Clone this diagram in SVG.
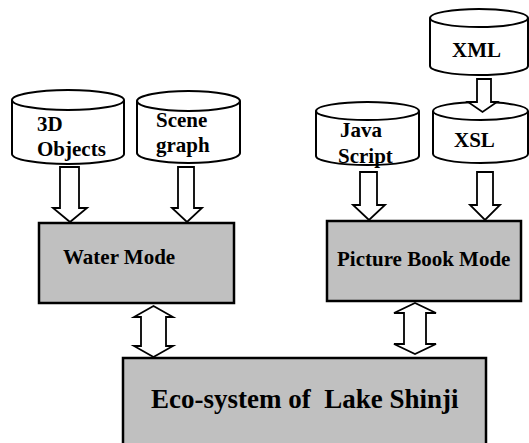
<svg xmlns="http://www.w3.org/2000/svg" width="529" height="443" viewBox="0 0 529 443">
  <style>
    .cyl { fill: #ffffff; stroke: #000000; stroke-width: 2; }
    .box { fill: #c0c0c0; stroke: #000000; stroke-width: 2.5; }
    .arrow { fill: #ffffff; stroke: #000000; stroke-width: 1.8; stroke-linejoin: miter; }
    .lbl { font-family: "Liberation Serif", "Times New Roman", serif; font-weight: bold; font-size: 21px; fill: #000000; }
    .big { font-size: 27px; }
  </style>
  <rect width="529" height="443" fill="#ffffff"/>

  <!-- Connectors (block arrows) -->
  <g id="connectors">
    <polygon class="arrow" points="60,167 79,167 79,208 87,208 70,222 53,208 60,208"/>
    <polygon class="arrow" points="178,167 194,167 194,208 202,208 187,222 172,208 178,208"/>
    <polygon class="arrow" points="360,172 377,172 377,205 385,205 369,220 353,205 360,205"/>
    <polygon class="arrow" points="477,172 493,172 493,205 500,205 485,220 470,205 477,205"/>
    <polygon class="arrow" points="141,317 134,317 153.5,306 173,317 166,317 166,346 173,346 153.5,357 134,346 141,346"/>
    <polygon class="arrow" points="404,313 394,313 415,303 436,313 426,313 426,344 436,344 415,354 394,344 404,344"/>
  </g>

  <!-- 3D Objects -->
  <g id="objects3d">
    <path class="cyl" d="M12,100 V154 A56,10 0 0 0 124,154 V100"/>
    <ellipse class="cyl" cx="68" cy="100" rx="56" ry="10"/>
    <text class="lbl" x="37" y="131">3D</text>
    <text class="lbl" x="37" y="156">Objects</text>
  </g>

  <!-- Scene graph -->
  <g id="scenegraph">
    <path class="cyl" d="M137,101 V153 A51.5,10 0 0 0 240,153 V101"/>
    <text class="lbl" x="156" y="127">Scene</text>
    <ellipse class="cyl" cx="188.5" cy="101" rx="51.5" ry="10" fill="none" style="fill:none"/>
    <text class="lbl" x="156" y="152">graph</text>
  </g>

  <!-- Java Script -->
  <g id="javascript">
    <path class="cyl" d="M316,111 V156 A51.5,9 0 0 0 419,156 V111"/>
    <ellipse class="cyl" cx="367.5" cy="111" rx="51.5" ry="9"/>
    <text class="lbl" x="340" y="137">Java</text>
    <text class="lbl" x="338" y="163">Script</text>
  </g>

  <!-- XML -->
  <g id="xml">
    <path class="cyl" d="M430,18 V66 A49,9 0 0 0 528,66 V18"/>
    <ellipse class="cyl" cx="479" cy="18" rx="49" ry="9"/>
    <text class="lbl" x="452" y="57">XML</text>
  </g>

  <!-- XSL -->
  <g id="xsl">
    <path class="cyl" d="M433,111 V154 A47.5,9 0 0 0 528,154 V111"/>
    <ellipse class="cyl" cx="480.5" cy="111" rx="47.5" ry="9"/>
    <text class="lbl" x="454" y="147">XSL</text>
  </g>

  <!-- XML to XSL arrow sits over the XSL lid -->
  <g id="xml-to-xsl">
    <polygon class="arrow" points="477,79 491,79 491,102 497,102 482.5,112 468,102 477,102"/>
  </g>

  <!-- Water Mode -->
  <g id="watermode">
    <rect class="box" x="39" y="223" width="195" height="80"/>
    <text class="lbl" x="63" y="264">Water Mode</text>
  </g>

  <!-- Picture Book Mode -->
  <g id="picturebook">
    <rect class="box" x="327" y="221" width="194" height="80"/>
    <text class="lbl" x="337" y="266">Picture Book Mode</text>
  </g>

  <!-- Eco-system -->
  <g id="ecosystem">
    <rect class="box" x="123" y="358" width="363" height="100"/>
    <text class="lbl big" x="151" y="408" xml:space="preserve">Eco-system of  Lake Shinji</text>
  </g>
</svg>
